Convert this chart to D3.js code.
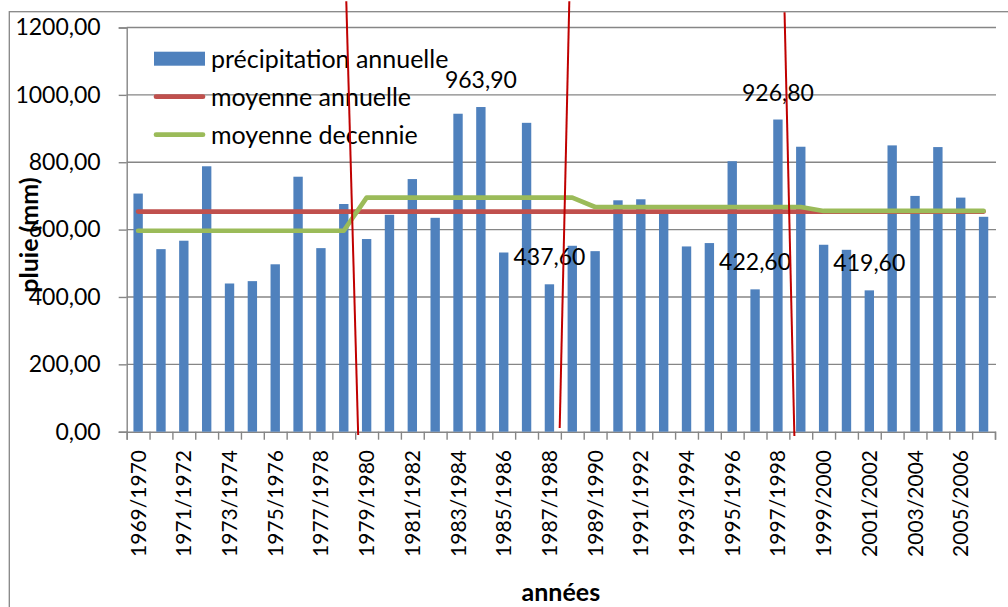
<!DOCTYPE html>
<html lang="fr">
<head>
<meta charset="utf-8">
<title>Précipitation annuelle</title>
<script src="https://cdn.jsdelivr.net/npm/d3@7"></script>
<style>
  html, body { margin: 0; padding: 0; background: #ffffff; }
  svg { display: block; }
  text { font-family: Lato, "Liberation Sans", sans-serif; fill: #000; }
</style>
</head>
<body>
<svg id="chart" width="1008" height="607"></svg>
<script>
// Années hydrologiques
const annees = [
  "1969/1970","1970/1971","1971/1972","1972/1973","1973/1974","1974/1975",
  "1975/1976","1976/1977","1977/1978","1978/1979","1979/1980","1980/1981",
  "1981/1982","1982/1983","1983/1984","1984/1985","1985/1986","1986/1987",
  "1987/1988","1988/1989","1989/1990","1990/1991","1991/1992","1992/1993",
  "1993/1994","1994/1995","1995/1996","1996/1997","1997/1998","1998/1999",
  "1999/2000","2000/2001","2001/2002","2002/2003","2003/2004","2004/2005",
  "2005/2006","2006/2007"
];

// Précipitation annuelle (mm)
const precipitation = [
  707, 542, 567, 788, 440, 447, 497, 757, 545, 676,
  572, 644, 750, 635, 944, 963.9, 532, 917, 437.6, 552,
  536, 687, 690, 649, 550, 560, 803, 422.6, 926.8, 846,
  555, 540, 419.6, 850, 700, 845, 695, 638
];

// Moyenne interannuelle (mm)
const moyenneAnnuelle = [653.4];

// Moyennes par décennie (mm) et nombre d'années couvertes
const moyenneDecennie = [596.6, 694.8, 667.1, 655.3];
const anneesParDecennie = [10, 10, 10, 8];

// Années dont la valeur est affichée
const anneesEtiquetees = ["1984/1985", "1987/1988", "1996/1997", "1997/1998", "2001/2002"];

// Graduations de l'axe des ordonnées
const graduationsY = [0, 200, 400, 600, 800, 1000, 1200];

// Ruptures tracées à la main : [position début, valeur début, position fin, valeur fin]
// (position exprimée en nombre d'années depuis le début de l'axe)
const ruptures = [
  [9.61, 1278, 10.13, -10],
  [19.37, 1278, 18.95, 11],
  [28.79, 1245, 29.22, -13]
];

const series = [
  { nom: "précipitation annuelle", type: "bar", couleur: "#4F81BD" },
  { nom: "moyenne annuelle", type: "line", couleur: "#C0504D" },
  { nom: "moyenne decennie", type: "line", couleur: "#9BBB59" }
];

const fr = d3.formatLocale({ decimal: ",", thousands: "", grouping: [3], currency: ["", " €"] });
const fmt = fr.format(".2f");

const svg = d3.select("#chart");
const W = 1008, H = 607;
const plot = { left: 126.7, right: 995, top: 27.5, bottom: 431.7 };
const grid = "#868686";

// Cadre du graphique
svg.append("rect")
  .attr("x", 9.3).attr("y", 11.7)
  .attr("width", W + 20).attr("height", H + 20)
  .attr("fill", "none").attr("stroke", grid).attr("stroke-width", 1.3);

const x = d3.scaleBand()
  .domain(annees)
  .range([plot.left, plot.right])
  .paddingInner(0.59)
  .paddingOuter(0.295);

const xPos = d3.scaleLinear().domain([0, annees.length]).range([plot.left, plot.right]);

const y = d3.scaleLinear().domain([0, 1200]).range([plot.bottom, plot.top]);

const cx = a => x(a) + x.bandwidth() / 2;

// Quadrillage horizontal
svg.append("g")
  .selectAll("line")
  .data(graduationsY.filter(v => v > 0))
  .join("line")
  .attr("x1", plot.left).attr("x2", plot.right + 1)
  .attr("y1", d => y(d)).attr("y2", d => y(d))
  .attr("stroke", grid).attr("stroke-width", 1.4);

// Axe des ordonnées
const axeY = svg.append("g")
  .attr("transform", `translate(${plot.left},0)`)
  .call(d3.axisLeft(y).tickValues(graduationsY).tickSize(8).tickPadding(18).tickFormat(fmt));
axeY.select(".domain").attr("stroke", grid).attr("stroke-width", 1.4);
axeY.selectAll(".tick line").attr("stroke", grid).attr("stroke-width", 1.4);
axeY.selectAll(".tick text").style("font-size", "23px").attr("fill", "#000");

// Axe des abscisses : graduations entre les années
const axeX = svg.append("g")
  .attr("transform", `translate(0,${plot.bottom})`)
  .call(d3.axisBottom(xPos).tickValues(d3.range(annees.length + 1)).tickSize(8).tickFormat(""));
axeX.select(".domain").attr("stroke", grid).attr("stroke-width", 1.4);
axeX.selectAll(".tick line").attr("stroke", grid).attr("stroke-width", 1.4);

// Étiquettes des années (une sur deux)
svg.append("g")
  .selectAll("text")
  .data(annees.filter((a, i) => i % 2 === 0 && i < annees.length - 1))
  .join("text")
  .attr("transform", a => `translate(${cx(a)},450) rotate(-90)`)
  .attr("text-anchor", "end")
  .attr("dy", "0.36em")
  .style("font-size", "21px")
  .text(a => a);

// Barres
svg.append("g")
  .selectAll("rect")
  .data(annees.map((a, i) => ({ a, v: precipitation[i] })))
  .join("rect")
  .attr("x", d => x(d.a))
  .attr("width", x.bandwidth())
  .attr("y", d => y(d.v))
  .attr("height", d => y(0) - y(d.v))
  .attr("fill", series[0].couleur);

const ligne = d3.line().x(d => cx(d.a)).y(d => y(d.v));

// Moyenne annuelle
svg.append("path")
  .datum(annees.map(a => ({ a, v: moyenneAnnuelle[0] })))
  .attr("d", ligne)
  .attr("fill", "none")
  .attr("stroke", series[1].couleur)
  .attr("stroke-width", 4.7)
  .attr("stroke-linecap", "round");

// Moyenne par décennie
const decennie = [];
anneesParDecennie.forEach((n, k) => {
  for (let j = 0; j < n; j++) decennie.push(moyenneDecennie[k]);
});
svg.append("path")
  .datum(annees.map((a, i) => ({ a, v: decennie[i] })))
  .attr("d", ligne)
  .attr("fill", "none")
  .attr("stroke", series[2].couleur)
  .attr("stroke-width", 4.7)
  .attr("stroke-linecap", "round")
  .attr("stroke-linejoin", "round");

// Valeurs affichées
svg.append("g")
  .selectAll("text")
  .data(anneesEtiquetees)
  .join("text")
  .attr("x", a => cx(a))
  .attr("y", a => y(precipitation[annees.indexOf(a)]) - 19)
  .attr("text-anchor", "middle")
  .style("font-size", "23px")
  .text(a => fmt(precipitation[annees.indexOf(a)]));

// Légende
const leg = svg.append("g").attr("transform", "translate(154,58.7)");
series.forEach((s, i) => {
  const g = leg.append("g").attr("transform", `translate(0,${i * 38})`);
  if (s.type === "bar") {
    g.append("rect").attr("x", 0).attr("y", -7).attr("width", 51).attr("height", 14).attr("fill", s.couleur);
  } else {
    g.append("line").attr("x1", 2).attr("x2", 49).attr("y1", 0).attr("y2", 0)
      .attr("stroke", s.couleur).attr("stroke-width", 4.7).attr("stroke-linecap", "round");
  }
  g.append("text").attr("x", 57).attr("dy", "0.36em").style("font-size", "25px").text(s.nom);
});

// Titres des axes
svg.append("text")
  .attr("transform", "translate(38,235) rotate(-90)")
  .attr("text-anchor", "middle")
  .style("font-size", "25px").style("font-weight", "bold")
  .text("pluie (mm)");

svg.append("text")
  .attr("x", (plot.left + plot.right) / 2).attr("y", 601)
  .attr("text-anchor", "middle")
  .style("font-size", "25px").style("font-weight", "bold")
  .text("années");

// Ruptures
svg.append("g")
  .selectAll("line")
  .data(ruptures)
  .join("line")
  .attr("x1", d => xPos(d[0])).attr("y1", d => y(d[1]))
  .attr("x2", d => xPos(d[2])).attr("y2", d => y(d[3]))
  .attr("stroke", "#C00000").attr("stroke-width", 2);
</script>
</body>
</html>
